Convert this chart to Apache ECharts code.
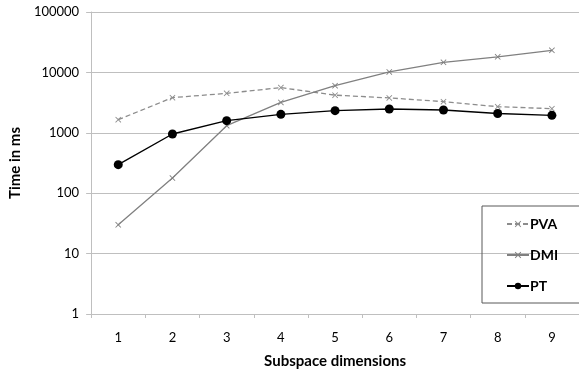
<!DOCTYPE html>
<html><head><meta charset="utf-8">
<script src="https://cdn.jsdelivr.net/npm/echarts@6/dist/echarts.min.js"></script>
<style>html,body{margin:0;padding:0;background:#fff}#c{width:579px;height:377px}</style>
</head><body><div id="c"></div>
<script>
const categories = ['1','2','3','4','5','6','7','8','9'];
const pva = [1650, 3820, 4500, 5600, 4200, 3780, 3280, 2710, 2510];
const dmi = [30, 178, 1310, 3180, 6040, 10200, 14700, 18100, 23200];
const pt = [297, 955, 1590, 2020, 2325, 2480, 2390, 2090, 1945];

const xSym = 'path://M0,1 L1,0 L5,4 L9,0 L10,1 L6,5 L10,9 L9,10 L5,6 L1,10 L0,9 L4,5 Z';
const font = 'Lato, "Open Sans", sans-serif';
const chart = echarts.init(document.getElementById('c'), null, {renderer: 'canvas'});
chart.setOption({
  animation: false,
  textStyle: {fontFamily: font},
  grid: {left: 90, right: 0, top: 12, bottom: 63, containLabel: false},
  xAxis: {
    type: 'category', data: categories, boundaryGap: true,
    name: 'Subspace dimensions', nameLocation: 'middle', nameGap: 40,
    nameTextStyle: {fontWeight: 'bold', fontSize: 15, color: '#000', fontFamily: font},
    axisLine: {lineStyle: {color: '#bfbfbf', width: 1}},
    axisTick: {show: true, length: 4, lineStyle: {color: '#bfbfbf'}},
    axisLabel: {color: '#000', fontSize: 13, margin: 17, fontFamily: font}
  },
  yAxis: {
    type: 'log', logBase: 10, min: 1, max: 100000,
    name: 'Time in ms', nameLocation: 'middle', nameGap: 66, nameRotate: 90,
    nameTextStyle: {fontWeight: 'bold', fontSize: 15, color: '#000', fontFamily: font},
    axisLine: {show: true, lineStyle: {color: '#bfbfbf', width: 1}},
    axisTick: {show: true, length: 5, inside: false, lineStyle: {color: '#bfbfbf'}},
    axisLabel: {color: '#000', fontSize: 13, margin: 12, fontFamily: font,
      formatter: v => String(Math.round(v))},
    splitLine: {show: true, lineStyle: {color: '#bfbfbf', width: 1}},
    minorTick: {show: false}
  },
  legend: {
    orient: 'vertical', left: 482, top: 206,
    padding: [10, 60, 9, 24],
    borderColor: '#595959', borderWidth: 1,
    itemWidth: 22, itemHeight: 8, itemGap: 15,
    textStyle: {fontWeight: 'bold', fontSize: 14, color: '#000', padding: [0,0,0,-4], lineHeight: 16, fontFamily: font},
    data: ['PVA', 'DMI', 'PT']
  },
  series: [
    {name: 'PVA', type: 'line', data: pva, symbol: xSym, symbolSize: 6,
     lineStyle: {color: '#8c8c8c', width: 1.3, type: [5, 3]},
     itemStyle: {color: '#8c8c8c'}},
    {name: 'DMI', type: 'line', data: dmi, symbol: xSym, symbolSize: 6,
     lineStyle: {color: '#808080', width: 1.3},
     itemStyle: {color: '#808080'}},
    {name: 'PT', type: 'line', data: pt, symbol: 'circle', symbolSize: 9,
     lineStyle: {color: '#000', width: 1.4},
     itemStyle: {color: '#000'}, z: 3}
  ]
});
</script></body></html>
